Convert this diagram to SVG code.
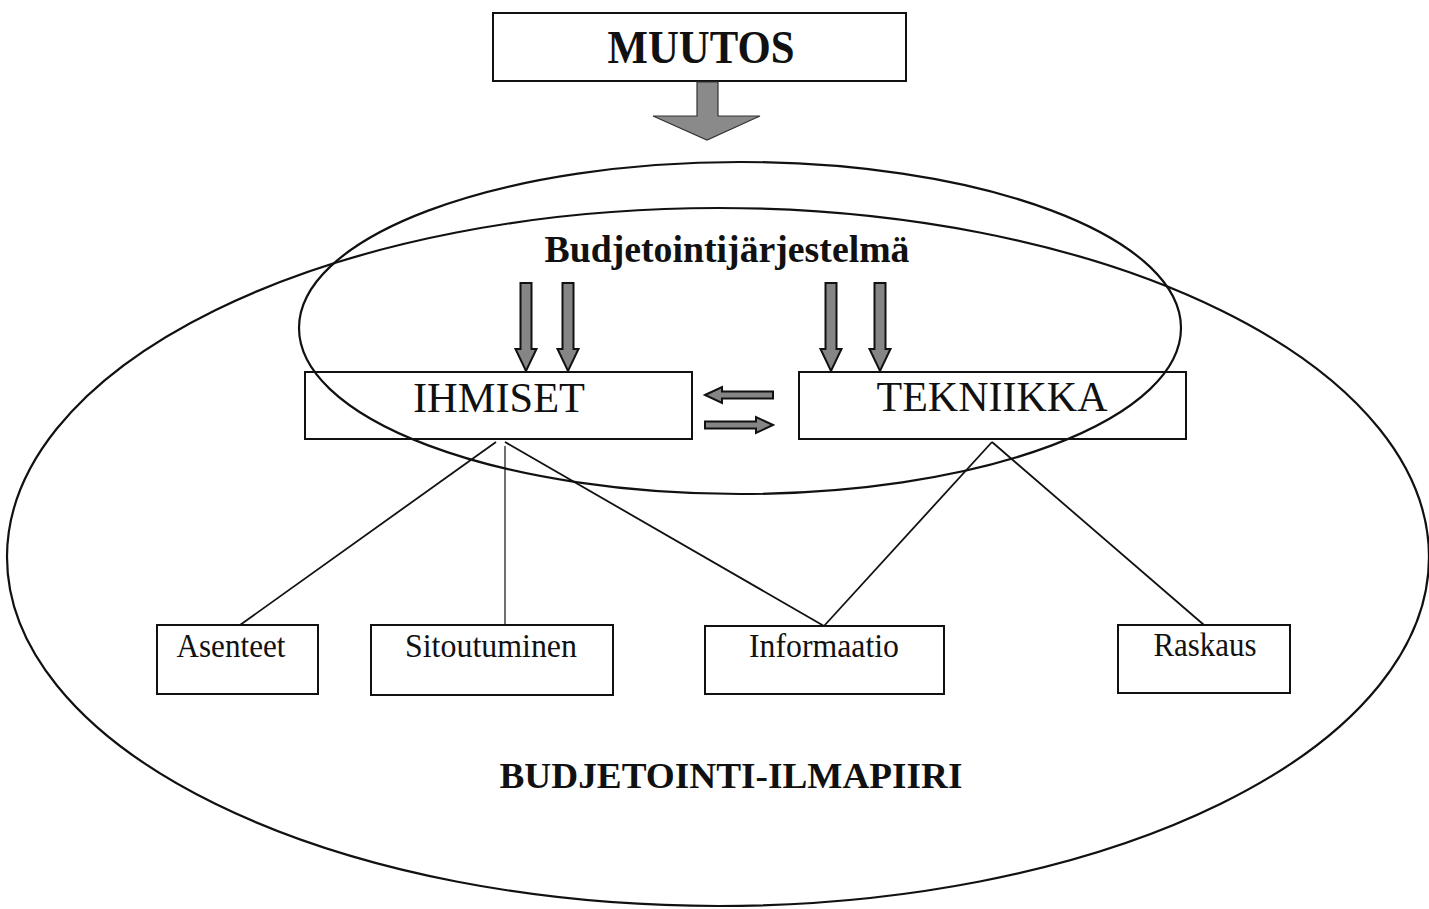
<svg xmlns="http://www.w3.org/2000/svg" xmlns:xlink="http://www.w3.org/1999/xlink" width="1429" height="909" viewBox="0 0 1429 909">
  <style>
    .box { fill: none; stroke: #111; stroke-width: 2; }
    .oval { fill: none; stroke: #111; stroke-width: 2.2; }
    .link { fill: none; stroke: #111; stroke-width: 1.8; }
    .thin { fill: none; stroke: #111; stroke-width: 1.2; }
    .arrow { fill: #858585; stroke: #111; stroke-width: 2; stroke-linejoin: miter; }
    .big { fill: #8a8a8a; stroke: #333; stroke-width: 1.2; }
    text { font-family: "Liberation Serif", "Times New Roman", serif; fill: #111; text-anchor: middle; }
    .bold { font-weight: bold; }
  </style>
  <defs>
    <!-- vertical block arrow, tip at (0,0) -->
    <path id="down" class="arrow" d="M -5.5,-88 H 5.5 V -22 H 10.5 L 0,0 L -10.5,-22 H -5.5 Z"/>
  </defs>

  <rect width="1429" height="909" fill="#fff"/>

  <!-- outer climate ellipse -->
  <g id="ilmapiiri">
    <ellipse class="oval" cx="718" cy="557" rx="711" ry="349"/>
    <text class="bold" x="731" y="788" font-size="35" textLength="463" lengthAdjust="spacingAndGlyphs">BUDJETOINTI-ILMAPIIRI</text>
  </g>

  <!-- budgeting system ellipse -->
  <g id="budjetointijarjestelma">
    <ellipse class="oval" cx="740" cy="328" rx="441" ry="166"/>
    <text class="bold" x="727" y="262" font-size="37" textLength="365" lengthAdjust="spacingAndGlyphs">Budjetointijärjestelmä</text>
  </g>

  <g id="muutos">
    <rect class="box" x="493" y="13" width="413" height="68"/>
    <text class="bold" x="701" y="63" font-size="46" textLength="187" lengthAdjust="spacingAndGlyphs">MUUTOS</text>
  </g>

  <g id="ihmiset">
    <rect class="box" x="305" y="372" width="387" height="67"/>
    <text x="499" y="412" font-size="43" textLength="172" lengthAdjust="spacingAndGlyphs">IHMISET</text>
  </g>

  <g id="tekniikka">
    <rect class="box" x="799" y="372" width="387" height="67"/>
    <text x="992" y="411" font-size="43" textLength="231" lengthAdjust="spacingAndGlyphs">TEKNIIKKA</text>
  </g>

  <g id="asenteet">
    <rect class="box" x="157" y="625" width="161" height="69"/>
    <text x="231" y="657" font-size="34" textLength="109" lengthAdjust="spacingAndGlyphs">Asenteet</text>
  </g>

  <g id="sitoutuminen">
    <rect class="box" x="371" y="625" width="242" height="70"/>
    <text x="491" y="657" font-size="34" textLength="172" lengthAdjust="spacingAndGlyphs">Sitoutuminen</text>
  </g>

  <g id="informaatio">
    <rect class="box" x="705" y="626" width="239" height="68"/>
    <text x="824" y="657" font-size="34" textLength="150" lengthAdjust="spacingAndGlyphs">Informaatio</text>
  </g>

  <g id="raskaus">
    <rect class="box" x="1118" y="625" width="172" height="68"/>
    <text x="1205" y="656" font-size="34" textLength="103" lengthAdjust="spacingAndGlyphs">Raskaus</text>
  </g>

  <g id="connectors">
    <!-- change flows into the system -->
    <path class="big" d="M 697,82 H 718 V 116 H 760 L 707,140 L 653,116 H 697 Z"/>
    <!-- system pushes on people and technique -->
    <use xlink:href="#down" x="526" y="371"/>
    <use xlink:href="#down" x="568" y="371"/>
    <use xlink:href="#down" x="831" y="371"/>
    <use xlink:href="#down" x="880" y="371"/>
    <!-- two-way exchange between people and technique -->
    <path class="arrow" d="M 705,395 L 722,387 V 391.5 H 773 V 398.5 H 722 V 403 Z"/>
    <path class="arrow" d="M 773,425 L 756,417 V 421.5 H 705 V 428.5 H 756 V 433 Z"/>
    <!-- branches to factors -->
    <line class="link" x1="496" y1="442" x2="240" y2="625"/>
    <line class="thin" x1="505" y1="446" x2="505" y2="625"/>
    <line class="link" x1="505" y1="442" x2="824" y2="626"/>
    <line class="link" x1="992" y1="442" x2="824" y2="626"/>
    <line class="link" x1="992" y1="442" x2="1204" y2="625"/>
  </g>
</svg>
